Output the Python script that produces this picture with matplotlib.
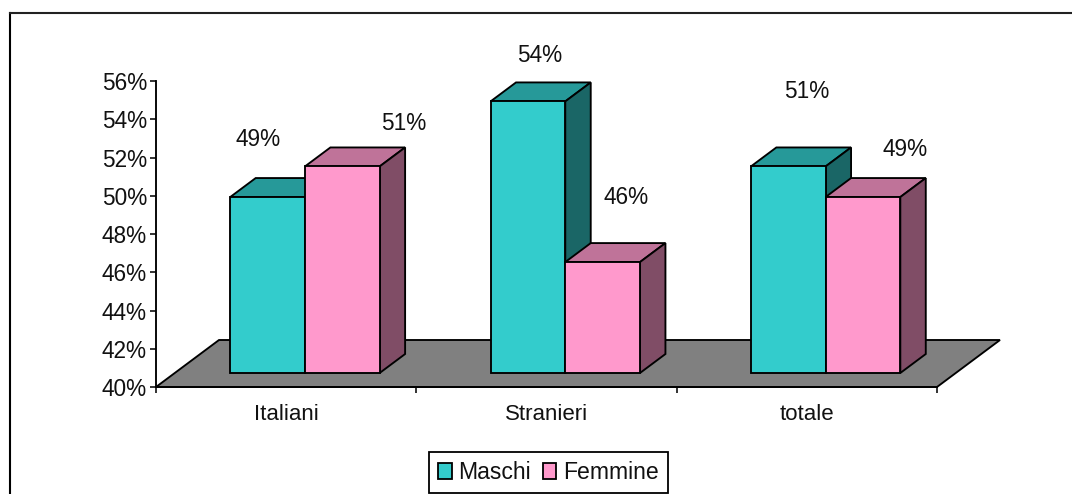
import matplotlib
matplotlib.use('Agg')
import matplotlib.pyplot as plt
from matplotlib.lines import Line2D
from matplotlib.patches import Patch

categories = ['Italiani', 'Stranieri', 'totale']
maschi = [49.2, 54.2, 50.8]
femmine = [50.8, 45.8, 49.2]
series_names = ['Maschi', 'Femmine']
yticks = [40, 42, 44, 46, 48, 50, 52, 54, 56]

W, H = 1072, 494
plt.rcParams['font.family'] = ['Liberation Sans', 'DejaVu Sans']
plt.rcParams['font.size'] = 16.3

fig = plt.figure(figsize=(W / 100, H / 100), dpi=100)
ax = fig.add_axes([156 / W, (H - 387) / H, 781 / W, 306 / H])
ax.set_xlim(0, 3)
ax.set_ylim(40, 56)
ax.patch.set_visible(False)

# oblique projection: full floor depth in data units
depth_x = 63 / (781 / 3)
depth_y = 47 / (306 / 16)
bar_w = 0.287
d0, d1 = 0.298, 0.702
lw = 1.35


def proj(x, y, d):
    return x + d * depth_x, y + d * depth_y


def poly(points, color, z):
    xs, ys = zip(*points)
    ax.fill(xs, ys, facecolor=color, edgecolor='black', linewidth=lw,
            joinstyle='miter', clip_on=False, zorder=z)


def box(x, top, front, roof, side, z):
    x2 = x + bar_w
    poly([proj(x, top, d0), proj(x2, top, d0), proj(x2, top, d1), proj(x, top, d1)], roof, z)
    poly([proj(x2, 40, d0), proj(x2, top, d0), proj(x2, top, d1), proj(x2, 40, d1)], side, z)
    poly([proj(x, 40, d0), proj(x2, 40, d0), proj(x2, top, d0), proj(x, top, d0)], front, z)


# floor
poly([proj(0, 40, 0), proj(3, 40, 0), proj(3, 40, 1), proj(0, 40, 1)], '#808080', 1)

for i in range(len(categories)):
    left = i + 0.5 - bar_w
    box(left, maschi[i], '#33CCCC', '#269999', '#1A6666', 2 + i)
    box(left + bar_w, femmine[i], '#FF99CC', '#BF7399', '#804D66', 2.5 + i)

for s in ['top', 'right']:
    ax.spines[s].set_visible(False)
ax.spines['left'].set_linewidth(1.35)
ax.spines['bottom'].set_linewidth(1.35)
ax.spines['left'].set_zorder(10)
ax.spines['bottom'].set_zorder(10)

ax.set_yticks(yticks)
ax.set_yticklabels(['%d%%' % v for v in yticks])
ax.set_xticks(range(len(categories) + 1))
ax.set_xticklabels([])
ax.tick_params(axis='y', length=4, width=1.2, pad=2.5, colors='#111111')
ax.tick_params(axis='x', length=4, width=1.2, colors='#111111')

for i, name in enumerate(categories):
    ax.text(i + 0.5, 38.55, name, ha='center', va='center', fontsize=16, color='#111111')

# data labels sit at hand placed spots in the original, pixel centres here
label_px = [(258, 140), (540, 55), (807, 92), (404, 123), (626, 198), (905, 149)]
for (px, py), v in zip(label_px, maschi + femmine):
    fig.text(px / W, 1 - py / H, '%d%%' % round(v), ha='center', va='center',
             fontsize=16.3, color='#111111')

# outer frame, only left and top show in the crop
fig.add_artist(Line2D([10 / W, 10 / W], [0, 1 - 13 / H], color='black', lw=1.5))
fig.add_artist(Line2D([10 / W, 1], [1 - 13 / H, 1 - 13 / H], color='#222222', lw=1.5))

handles = [Patch(facecolor='#33CCCC', edgecolor='black', linewidth=1.3),
           Patch(facecolor='#FF99CC', edgecolor='black', linewidth=1.3)]
leg = fig.legend(handles, series_names, ncol=2, loc='lower left',
                 bbox_to_anchor=(429 / W, 1 / H), borderaxespad=0, frameon=True,
                 fancybox=False, edgecolor='black', framealpha=1, fontsize=16.6,
                 handlelength=0.6, handleheight=0.7, handletextpad=0.3,
                 columnspacing=0.5, borderpad=0.38)
leg.get_frame().set_linewidth(1.3)
for t in leg.get_texts():
    t.set_color('#111111')

fig.savefig('out.png', dpi=100, facecolor='white')
